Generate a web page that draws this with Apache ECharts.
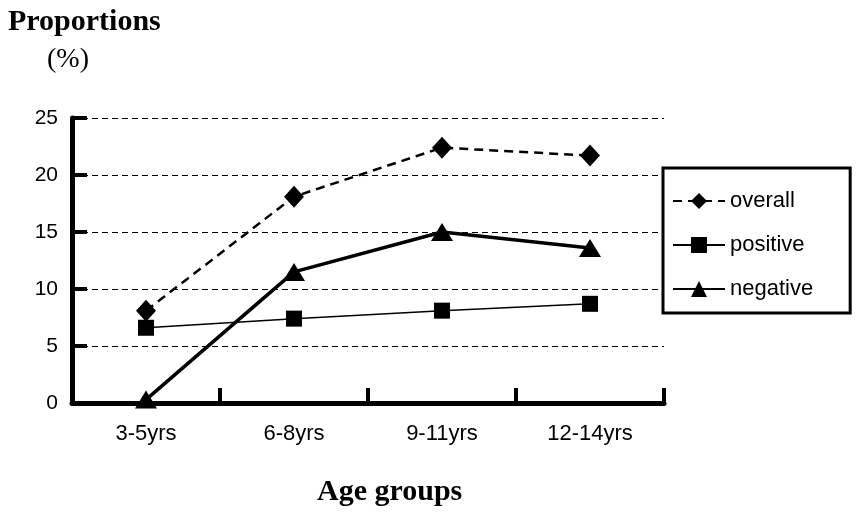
<!DOCTYPE html>
<html>
<head>
<meta charset="utf-8">
<script src="https://cdn.jsdelivr.net/npm/echarts@6/dist/echarts.min.js"></script>
<style>
  html, body { margin: 0; padding: 0; background: #fff; }
  #chart { width: 868px; height: 520px; }
</style>
</head>
<body>
<div id="chart"></div>
<script>
// age groups on the x axis
const ageGroups = ['3-5yrs', '6-8yrs', '9-11yrs', '12-14yrs'];
// proportions (%)
const overall = [8.1, 18.1, 22.4, 21.7];
const positive = [6.6, 7.4, 8.1, 8.7];
const negative = [0.3, 11.5, 15.0, 13.6];

const chart = echarts.init(document.getElementById('chart'));

const serif = '"Liberation Serif", "DejaVu Serif", serif';
const sans = '"Liberation Sans", Arial, sans-serif';

chart.setOption({
  animation: false,
  backgroundColor: '#fff',
  title: [
    {
      text: 'Proportions',
      left: 3, top: 2,
      textStyle: { fontFamily: serif, fontWeight: 'bold', fontSize: 30, color: '#000' }
    },
    {
      text: '(%)',
      left: 42, top: 41,
      textStyle: { fontFamily: serif, fontWeight: 'normal', fontSize: 28, color: '#000' }
    },
    {
      text: 'Age groups',
      left: 312, top: 472,
      textStyle: { fontFamily: serif, fontWeight: 'bold', fontSize: 30, color: '#000' }
    }
  ],
  legend: {
    orient: 'vertical',
    left: 663, top: 168,
    padding: [22, 37, 13, 9],
    itemWidth: 52, itemHeight: 20,
    itemGap: 22,
    borderColor: '#000', borderWidth: 3,
    textStyle: { fontFamily: sans, fontSize: 22, color: '#000' },
    data: ['overall', 'positive', 'negative']
  },
  grid: { left: 72, right: 204, top: 118, bottom: 117 },
  xAxis: {
    type: 'category',
    data: ageGroups,
    boundaryGap: true,
    axisLine: { lineStyle: { color: '#000', width: 5 } },
    axisTick: { show: true, interval: 0, inside: true, length: 15, lineStyle: { color: '#000', width: 4 } },
    axisLabel: { color: '#000', fontFamily: sans, fontSize: 22, margin: 20 }
  },
  yAxis: {
    type: 'value',
    min: 0, max: 25, interval: 5,
    axisLine: { show: true, lineStyle: { color: '#000', width: 5 } },
    axisTick: { show: true, inside: true, length: 15, lineStyle: { color: '#000', width: 4 } },
    axisLabel: { color: '#000', fontFamily: sans, fontSize: 21, margin: 14 },
    splitLine: { show: true, lineStyle: { color: '#000', width: 1, type: [6, 4] } }
  },
  series: [
    {
      name: 'overall', type: 'line', data: overall,
      symbol: 'diamond', symbolSize: [20, 22],
      lineStyle: { color: '#000', width: 2.5, type: [9, 6] },
      itemStyle: { color: '#000' }
    },
    {
      name: 'positive', type: 'line', data: positive,
      symbol: 'rect', symbolSize: 16,
      lineStyle: { color: '#000', width: 1.5 },
      itemStyle: { color: '#000' }
    },
    {
      name: 'negative', type: 'line', data: negative,
      symbol: 'triangle', symbolSize: [22, 18],
      lineStyle: { color: '#000', width: 3.5 },
      itemStyle: { color: '#000' }
    }
  ]
});
</script>
</body>
</html>
